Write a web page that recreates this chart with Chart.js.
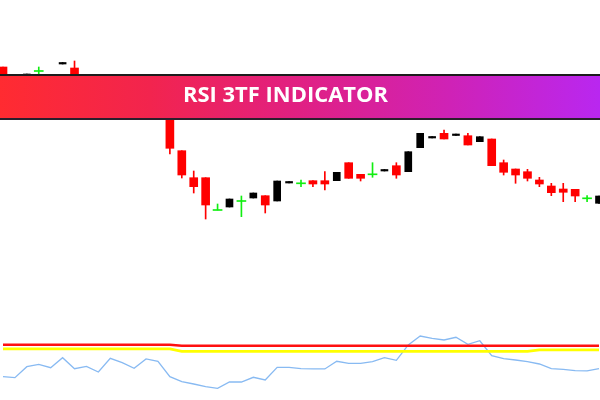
<!DOCTYPE html>
<html>
<head>
<meta charset="utf-8">
<script src="https://cdn.jsdelivr.net/npm/chart.js@4/dist/chart.umd.min.js"></script>
<style>
  html, body { margin: 0; padding: 0; background: #ffffff; overflow: hidden; }
  #wrap { position: relative; width: 600px; height: 400px; }
  canvas { display: block; }
</style>
</head>
<body>
<div id="wrap"><canvas id="c" width="600" height="400"></canvas></div>
<script>
// ---- Data ----
const bannerTitle = "RSI 3TF INDICATOR";
const candleIndex = Array.from({length: 51}, (_, i) => i);
const openP  = [333,312,324.7,329,318,336,332,312,305,309,300,297,300,292,289,249.3,222.3,222.3,190,193,199,202,204.3,199,217,216.7,219.3,219.3,219.3,237.3,225.7,225.7,229,234.3,228.3,252.3,262,266.7,264.5,264.3,258.3,261,237.3,231,228.3,220,214,211,210.7,201.7,196.7];
const highP  = [333,320,326,333,320,337.5,339,314,311,311,303,302,301,294,290,249.3,229,222.3,196,201,204,207,204.3,219,218.5,220,219.3,228.3,227.7,237.3,225.7,237.3,230.5,237.3,248.3,266.7,263.5,270,266,266.7,263.3,261,240,231,230.7,222.7,216.7,216.7,210.7,204.3,204];
const lowP   = [312,310,324.7,326,306,336,310,302,303,296,294,293,290,286,246,222,207,181,190,193,183.3,202,187,199,217,213.3,213.3,210,219.3,221.7,219,222.7,229,221.7,228.3,252.3,262,261,264.5,255,258.3,234.3,225,216.7,219,213.3,204.3,198.3,198.3,198.3,196.7];
const closeP = [315,318,326,329,310,337.5,312,305,309,300,297,300,292,289,251.7,225,213.3,195,190,201,199,207,195,219,218.5,216.7,216,216,227.7,221.7,221.7,225.7,230.5,225,248.3,266.7,263.5,261,266,255,263.3,234.3,227.7,225,221.7,216,207.3,207.7,204,201.7,204];
const rsiMain = [29.1,27.9,41.6,44.6,40.4,52.9,39.1,42.1,35,52.1,46.6,39.6,51.3,48.4,29.1,22.9,20,16.6,14.6,22.5,22.5,28.4,25,40.9,40.9,39.1,38.8,38.8,48.4,45.9,45.9,47.9,52.9,49.6,68.8,80,77.1,75,78.4,69.6,74.1,55.4,51.6,50,47.9,45,39.1,38.4,36.6,36.3,39.1];
const rsiTF2  = [69,69,69,69,69,69,69,69,69,69,69,69,69,69,69,67.9,67.9,67.9,67.9,67.9,67.9,67.9,67.9,67.9,67.9,67.9,67.9,67.9,67.9,67.9,67.9,67.9,67.9,67.9,67.9,67.9,67.9,67.9,67.9,67.9,67.9,67.9,67.9,67.9,67.9,67.9,67.9,67.9,67.9,67.9,67.9];
const rsiTF3  = [63.8,63.8,63.8,63.8,63.8,63.8,63.8,63.8,63.8,63.8,63.8,63.8,63.8,63.8,63.8,60.7,60.7,60.7,60.7,60.7,60.7,60.7,60.7,60.7,60.7,60.7,60.7,60.7,60.7,60.7,60.7,60.7,60.7,60.7,60.7,60.7,60.7,60.7,60.7,60.7,60.7,60.7,60.7,60.7,60.7,62.7,62.7,62.7,62.7,62.7,62.7];

// ---- Styles ----
const RED = '#ff0000', BLACK = '#000000', GREEN = '#11ee11';

function kind(i) {
  if (closeP[i] > openP[i]) return 'up';
  if (closeP[i] < openP[i]) return 'down';
  return 'doji';
}
const wickData = candleIndex.map(i => ({x: i, y: [lowP[i], highP[i]]}));
const wickColors = candleIndex.map(i => kind(i) === 'down' ? RED : kind(i) === 'up' ? BLACK : GREEN);
const downData = candleIndex.filter(i => kind(i) === 'down').map(i => ({x: i, y: [closeP[i], openP[i]]}));
const upData = candleIndex.filter(i => kind(i) === 'up').map(i => ({x: i, y: [openP[i], closeP[i]]}));
const dojiData = candleIndex.filter(i => kind(i) === 'doji').map(i => ({x: i, y: [openP[i] - 0.5, openP[i] + 0.5]}));
const lineXY = arr => arr.map((v, i) => ({x: candleIndex[i], y: v}));

const bannerPlugin = {
  id: 'banner',
  afterDraw(chart) {
    const ctx = chart.ctx;
    ctx.save();
    const top = 74, bottom = 120;
    ctx.fillStyle = '#1c1c1c';
    ctx.fillRect(0, top, 600, 2);
    const g = ctx.createLinearGradient(0, 0, 600, 0);
    g.addColorStop(0, '#ff2b31');
    g.addColorStop(0.25, '#f2244e');
    g.addColorStop(0.48, '#e2207f');
    g.addColorStop(0.75, '#cf22b6');
    g.addColorStop(1, '#b927f0');
    ctx.fillStyle = g;
    ctx.fillRect(0, top + 2, 600, bottom - top - 4);
    ctx.fillStyle = '#2a1f2c';
    ctx.fillRect(0, bottom - 2, 600, 2);
    ctx.font = '700 20.5px "Open Sans", "DejaVu Sans", sans-serif';
    ctx.fillStyle = '#ffffff';
    ctx.textBaseline = 'alphabetic';
    const w = ctx.measureText(bannerTitle).width;
    const target = 205;
    ctx.translate(183, 102.3);
    ctx.scale(target / w, 1);
    ctx.fillText(bannerTitle, 0, 0);
    ctx.restore();
  }
};

new Chart(document.getElementById('c'), {
  data: {
    datasets: [
      { type: 'line', label: 'RSI', data: lineXY(rsiMain), yAxisID: 'y2', borderColor: '#88baf2', borderWidth: 1.3, pointRadius: 0, tension: 0, order: 5 },
      { type: 'line', label: 'RSI TF2', data: lineXY(rsiTF2), yAxisID: 'y2', borderColor: '#ff1010', borderWidth: 2.6, pointRadius: 0, tension: 0, order: 4 },
      { type: 'line', label: 'RSI TF3', data: lineXY(rsiTF3), yAxisID: 'y2', borderColor: '#ffff00', borderWidth: 2.8, pointRadius: 0, tension: 0, order: 4 },
      { type: 'bar', label: 'wick', data: wickData, yAxisID: 'y', backgroundColor: wickColors, barThickness: 1, grouped: false, borderWidth: 0, order: 3 },
      { type: 'bar', label: 'down', data: downData, yAxisID: 'y', backgroundColor: RED, barThickness: 8, grouped: false, borderWidth: 0, order: 2 },
      { type: 'bar', label: 'up', data: upData, yAxisID: 'y', backgroundColor: BLACK, barThickness: 7, grouped: false, borderWidth: 0, order: 2 },
      { type: 'bar', label: 'doji', data: dojiData, yAxisID: 'y', backgroundColor: GREEN, barThickness: 9, grouped: false, borderWidth: 0, order: 1 }
    ]
  },
  options: {
    responsive: false,
    animation: false,
    layout: { padding: 0 },
    plugins: { legend: { display: false }, tooltip: { enabled: false } },
    scales: {
      x: { type: 'linear', min: -0.2517, max: 50.084, offset: false, display: false },
      y: { type: 'linear', axis: 'y', min: 0, max: 400, display: false },
      y2: { type: 'linear', axis: 'y', min: 0, max: 500, display: false }
    }
  },
  plugins: [bannerPlugin]
});
</script>
</body>
</html>
